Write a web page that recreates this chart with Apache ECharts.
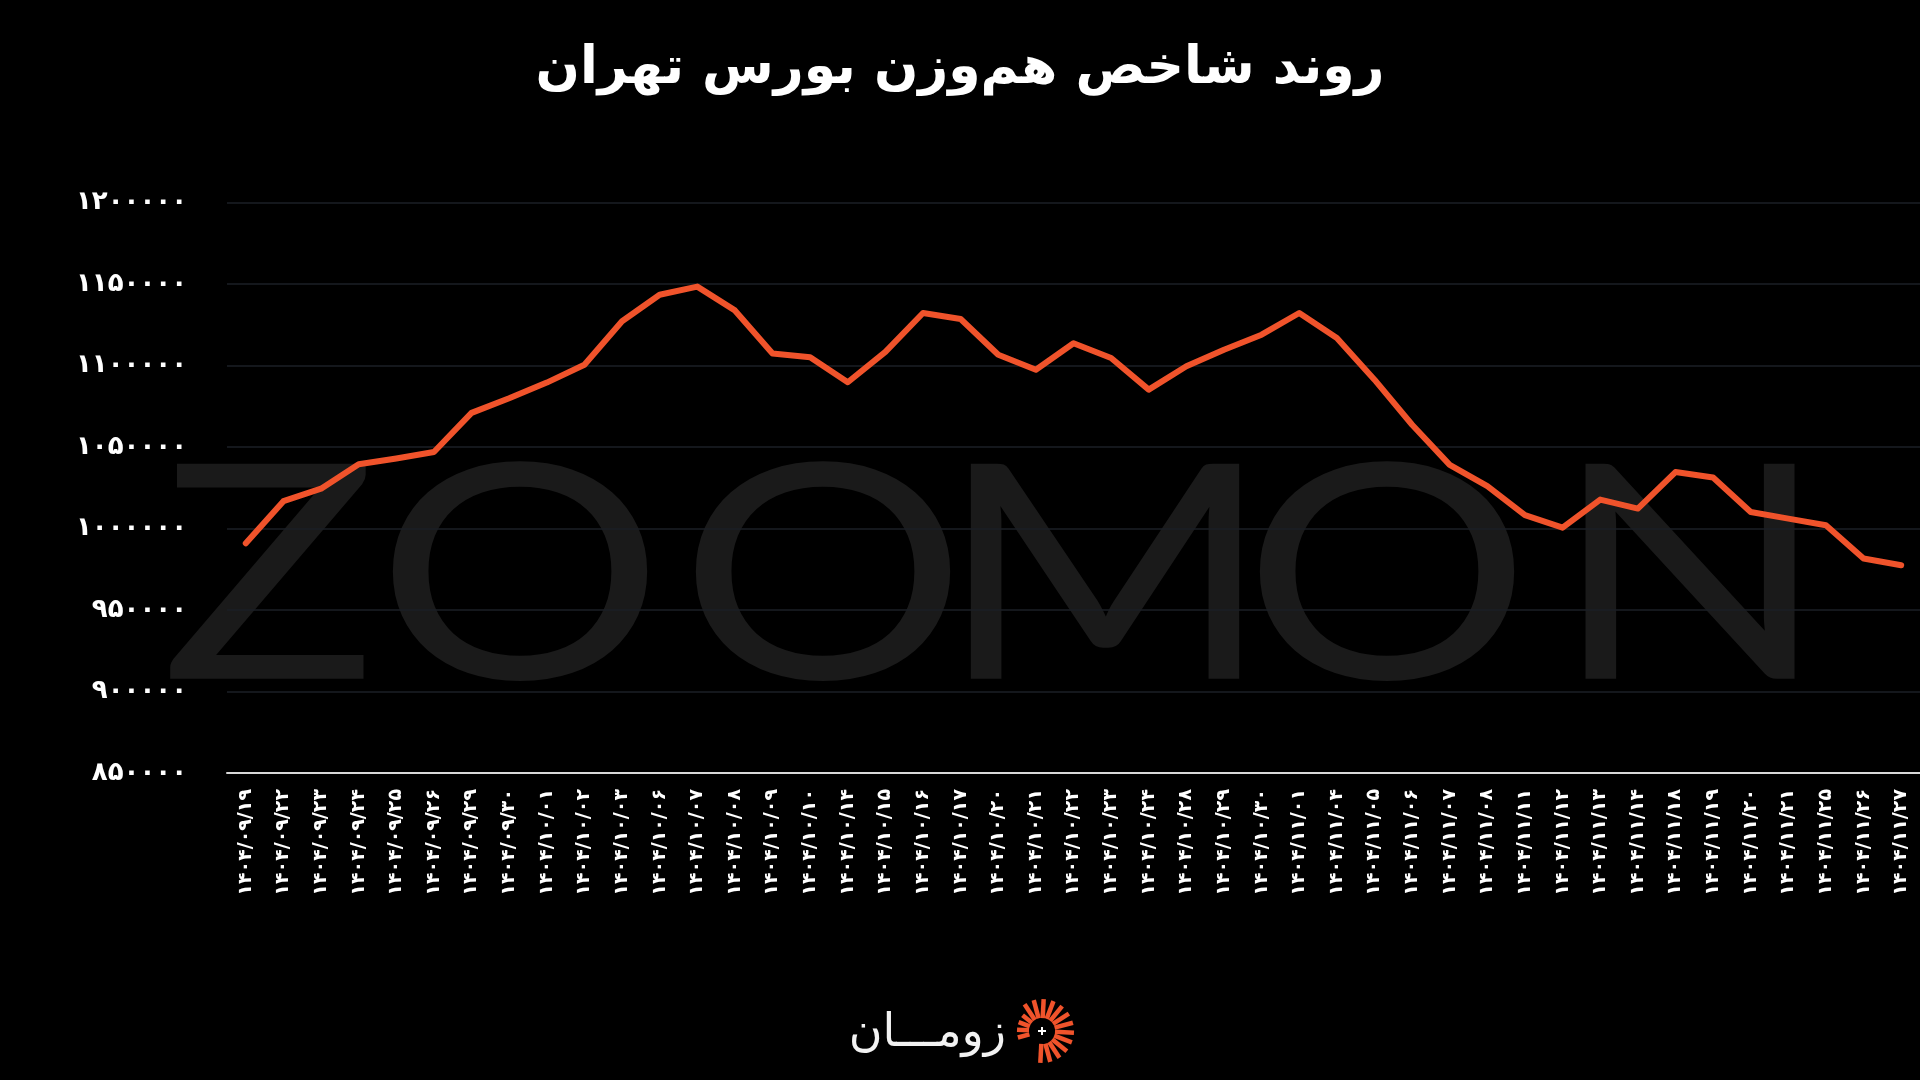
<!DOCTYPE html>
<html><head><meta charset="utf-8">
<script src="https://cdn.jsdelivr.net/npm/echarts@6/dist/echarts.min.js"></script>
<style>html,body{margin:0;padding:0;background:#000;}#c{width:1920px;height:1080px;}</style>
</head><body><div id="c"></div>
<script>
const titleText = 'روند شاخص هم‌وزن بورس تهران';
const brandText = 'زومـــان';
const dates = ['1404/09/19','1404/09/22','1404/09/23','1404/09/24','1404/09/25','1404/09/26','1404/09/29','1404/09/30',
'1404/10/01','1404/10/02','1404/10/03','1404/10/06','1404/10/07','1404/10/08','1404/10/09','1404/10/10','1404/10/14',
'1404/10/15','1404/10/16','1404/10/17','1404/10/20','1404/10/21','1404/10/22','1404/10/23','1404/10/24','1404/10/28',
'1404/10/29','1404/10/30','1404/11/01','1404/11/04','1404/11/05','1404/11/06','1404/11/07','1404/11/08','1404/11/11',
'1404/11/12','1404/11/13','1404/11/14','1404/11/18','1404/11/19','1404/11/20','1404/11/21','1404/11/25','1404/11/26','1404/11/27'];
const indexValues = [991000,1016800,1024500,1039500,1043000,1047000,1071000,1080000,
1089600,1100500,1127200,1143500,1148500,1133900,1107400,1105100,1089800,
1108400,1132300,1128600,1106700,1097500,1113700,1104700,1085300,1099600,
1109800,1119000,1132300,1117000,1091400,1063700,1039100,1026000,1008200,
1000600,1017800,1012300,1034700,1031300,1010200,1006100,1002000,981600,977500];
const yMin = 850000, yMax = 1200000, yStep = 50000;

const fa = s => String(s).replace(/[0-9]/g, d => '۰۱۲۳۴۵۶۷۸۹'[d]);
const ORANGE = '#f0532b';

// logo rays
const rays = [];
const cx = 1042, cy = 1031;
const angs = [-195,-177,-159,-141,-123,-105,-87,-69,-51,-33,-15,3,21,39,57,75,93];
angs.forEach((a,i) => {
  const r = a*Math.PI/180;
  const r0 = 13, r1 = (i<4) ? 25 : 32;
  rays.push({type:'line', shape:{x1:cx+r0*Math.cos(r), y1:cy+r0*Math.sin(r), x2:cx+r1*Math.cos(r), y2:cy+r1*Math.sin(r)},
    style:{stroke:ORANGE, lineWidth:4.5}});
});
rays.push({type:'line', shape:{x1:cx-4,y1:cy,x2:cx+4,y2:cy}, style:{stroke:'#fff',lineWidth:2}});
rays.push({type:'line', shape:{x1:cx,y1:cy-4,x2:cx,y2:cy+4}, style:{stroke:'#fff',lineWidth:2}});

const wmLetters = [['Z',269],['O',520],['O',823],['M',1105],['O',1387],['N',1690]];
const wm = wmLetters.map(([t,x]) => ({
  type:'text', x:x, y:582, scaleX:1.2, z:-10,
  style:{text:t, font:'400 300px Lato, "Open Sans", sans-serif', fill:'#1a1a1a', align:'center', verticalAlign:'middle'}
}));

const chart = echarts.init(document.getElementById('c'));
chart.setOption({
  backgroundColor:'#000',
  animation:false,
  title:{text:titleText, left:'center', top:38,
    textStyle:{color:'#fff', fontSize:52, fontWeight:'bold', fontFamily:'DejaVu Sans'}},
  graphic:[...wm,
    {type:'text', x:1006, y:1034, z:10, style:{text:brandText, font:'46px DejaVu Sans', fill:'#f2f2f2', align:'right', verticalAlign:'middle'}},
    {type:'group', z:10, children:rays}
  ],
  grid:{left:227, right:0, top:202.7, bottom:307},
  xAxis:{type:'category', data:dates, boundaryGap:true,
    axisLine:{lineStyle:{color:'#d8d8d8', width:2}},
    axisTick:{show:false},
    axisLabel:{rotate:90, interval:0, margin:16, color:'#fff', fontSize:19, fontWeight:'bold', fontFamily:'DejaVu Sans', formatter:v=>fa(v)},
    splitLine:{show:false}},
  yAxis:{type:'value', min:yMin, max:yMax, interval:yStep,
    axisLine:{show:false}, axisTick:{show:false},
    axisLabel:{margin:40, color:'#fff', fontSize:26, fontWeight:'bold', fontFamily:'DejaVu Sans', formatter:v=>fa(v)},
    splitLine:{lineStyle:{color:'#1b1f26', width:1.5}}},
  series:[{type:'line', data:indexValues, symbol:'none', z:5,
    lineStyle:{color:ORANGE, width:6, join:'round', cap:'round'}}]
});
</script></body></html>
